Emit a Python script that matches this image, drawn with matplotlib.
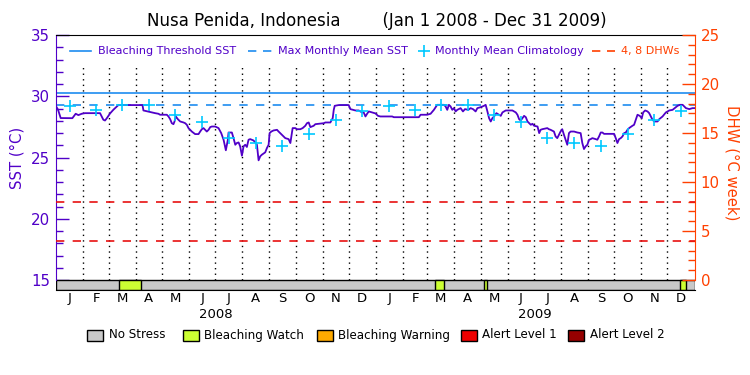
import numpy as np
import matplotlib
matplotlib.use('Agg')
import matplotlib.pyplot as plt
from matplotlib.patches import Rectangle
from matplotlib.lines import Line2D

# Datos (días desde el 1 ene 2008)
sst_days = [0, 2, 5, 18.4, 22.2, 25.3, 29.1, 32.9, 50.1, 53.9, 55.8, 57.8, 61.6, 65.4, 71.1,
            98.7, 99.8, 113.2, 117, 118.9, 126.6, 128.5, 130.4, 132.3, 134.2, 135.4, 136.9,
            139.2, 141.9, 145.7, 147.6, 149.5, 151.4, 153.3, 155.2, 159, 162.9, 164.8, 166.7,
            168.6, 170.5, 172.4, 174.4, 176.3, 178.2, 182, 185.8, 188.9, 191.6, 194.2, 196.5,
            197.3, 201.1, 203.0, 205.0, 206.8, 208.8, 210.6, 212.6, 214.5, 216.4, 218.3, 220.2,
            222.1, 225.9, 227.9, 229.8, 231.7, 233.6, 235.5, 239.3, 241.3, 243.2, 244.3, 246.3,
            248.9, 252.8, 254.6, 258.5, 262.3, 266.1, 268.1, 270.7, 273.8, 275.7, 279.5, 282.2,
            285.2, 287.1, 289.1, 291.0, 294.8, 296.7, 300.6, 306.3, 308.2, 313.9, 316.6, 317.8,
            318.9, 323.4, 334.9, 336.8, 342.6, 346.4, 350.2, 352.1, 354.1, 356.0, 357.9, 361.7,
            365.5, 368.5, 371.2, 384.7, 386.6, 415.3, 417.2, 424.8, 428.7, 432.5, 436.3, 444.0,
            445.9, 447.8, 449.7, 451.6, 453.6, 455.5, 457.4, 459.3, 463.1, 465.8, 468.1, 471.9,
            474.6, 477.3, 480.3, 482.3, 486.1, 489.9, 491.8, 493.8, 495.7, 497.6, 499.5, 501.4,
            504.1, 507.1, 509.1, 511.0, 514.8, 522.4, 526.3, 528.2, 530.1, 532.0, 533.9, 535.8,
            537.8, 539.7, 541.6, 543.5, 545.4, 547.3, 551.2, 553.1, 554.7, 556.6, 562.4, 564.2,
            566.2, 570.0, 571.9, 573.8, 575.7, 577.6, 579.5, 581.5, 583.4, 585.3, 587.2, 589.1,
            593.0, 596.8, 600.6, 602.5, 604.4, 606.3, 608.3, 610.2, 612.1, 614.0, 617.8, 619.7,
            621.7, 623.6, 625.5, 627.4, 631.2, 638.9, 640.8, 642.7, 644.6, 646.5, 648.5, 650.4,
            652.3, 654.2, 656.1, 659.9, 661.8, 663.8, 665.7, 668.3, 670.6, 672.2, 674.5, 677.2,
            679.1, 681.0, 682.9, 684.9, 688.7, 690.6, 694.4, 698.2, 702.1, 705.9, 709.7, 711.6,
            714.3, 717.4, 721.2, 725.0, 728.8, 731]
sst_vals = [29.15, 28.9, 28.22, 28.21, 28.57, 28.46, 28.57, 28.62, 28.62, 28.08, 28.02, 28.2, 28.6,
            28.9, 29.28, 29.28, 28.84, 28.62, 28.57, 28.49, 28.49, 28.35, 28.13, 27.8, 27.72,
            27.94, 28.35, 28.13, 27.94, 27.86, 27.8, 27.67, 27.4, 27.26, 27.12, 26.91, 26.91,
            27.12, 27.31, 27.4, 27.26, 27.12, 27.26, 27.48, 27.53, 27.53, 27.4, 26.99, 26.45,
            25.59, 26.45, 27.04, 27.04, 26.58, 26.04, 26.18, 26.23, 25.91, 25.15, 25.91, 26.04,
            25.86, 26.45, 26.5, 26.39, 26.23, 26.04, 24.77, 25.1, 25.23, 25.42, 25.78, 26.04,
            26.99, 27.12, 27.21, 27.26, 27.12, 26.85, 26.58, 26.5, 26.18, 27.4, 27.4, 27.31,
            27.31, 27.4, 27.59, 27.8, 27.86, 27.48, 27.59, 27.72, 27.75, 27.8, 27.86, 27.86,
            28.21, 28.89, 29.22, 29.28, 29.28, 28.95, 28.84, 28.84, 28.68, 28.68, 28.35, 28.57,
            28.76, 28.68, 28.6, 28.4, 28.35, 28.35, 28.29, 28.29, 28.49, 28.49, 28.57, 28.89,
            29.3, 29.3, 29.17, 28.89, 29.3, 29.17, 28.89, 29.03, 28.76, 28.89, 29.03, 28.76,
            28.95, 28.89, 29.03, 28.95, 28.76, 29.03, 29.11, 29.22, 29.3, 28.76, 28.21, 27.94,
            28.21, 28.35, 28.62, 28.49, 28.4, 28.68, 28.84, 28.84, 28.68, 28.49, 28.13, 28.02,
            28.21, 28.4, 28.29, 27.94, 27.8, 27.67, 27.75, 27.59, 27.53, 26.99, 27.26, 27.31,
            27.4, 27.31, 27.26, 27.12, 26.72, 26.58, 26.85, 27.12, 27.31, 26.85, 26.45, 26.04,
            26.99, 27.12, 27.12, 27.04, 26.99, 26.18, 25.69, 25.91, 26.04, 26.45, 26.5, 26.58,
            26.5, 26.45, 26.72, 27.04, 27.04, 26.93, 26.93, 26.93, 26.58, 26.18, 26.5, 26.58,
            26.72, 26.99, 27.04, 27.26, 27.4, 27.59, 27.67, 28.08, 28.49, 28.4, 28.21, 28.68,
            28.84, 28.76, 28.62, 28.35, 28.08, 27.94, 27.94, 28.13, 28.35, 28.68, 28.84, 28.89,
            29.11, 29.22, 29.3, 29.3, 29.03, 28.95, 29.03, 29.03]

clim_vals = [29.22, 28.84, 29.28, 29.26, 28.49, 27.89, 26.61, 26.15, 25.97, 26.91, 28.05, 28.81]
mmm = 29.28
threshold = 30.28
dhw_levels = [4, 8]

watch_periods = [(72, 97.5), (433.5, 444), (489.7, 493), (714, 721)]

month_letters = ['J', 'F', 'M', 'A', 'M', 'J', 'J', 'A', 'S', 'O', 'N', 'D']
years = ['2008', '2009']

stress_labels = ['No Stress', 'Bleaching Watch', 'Bleaching Warning', 'Alert Level 1', 'Alert Level 2']
stress_colors = ['#C8C8C8', '#CCFF33', '#FFAA00', '#EE0000', '#960000']

purple = '#5000C8'
blue = '#1E8CF0'
cyan = '#00C8FF'
orange = '#FF4000'
red = '#E81010'

# Meses: inicio, fin y centro en días
months = np.arange('2008-01', '2010-02', dtype='datetime64[M]')
edges = (months.astype('datetime64[D]') - np.datetime64('2008-01-01')).astype(int)
m_start = edges[:-1]
m_mid = (edges[:-1] + edges[1:]) / 2.0
n_days = edges[-1]

fig = plt.figure(figsize=(7.5, 3.75), dpi=100)
ax = fig.add_axes([56.3 / 750, 85 / 375, 638.2 / 750, 255 / 375])

bar_frac = 10 / 255
sst_lo = 15 - bar_frac * 20 / (1 - bar_frac)
dhw_lo = -bar_frac * 25 / (1 - bar_frac)
ax.set_xlim(0, n_days)
ax.set_ylim(sst_lo, 35)

# Líneas punteadas de los meses
ax.vlines(m_start[1:], 15, 32.5, colors='k', linestyles=(0, (1, 3)), lw=1)

# Umbrales
ax.axhline(threshold, color=blue, lw=1.2)
ax.axhline(mmm, color=blue, lw=1.2, ls=(0, (5, 5)))

ax.plot(sst_days, sst_vals, color=purple, lw=1.3, zorder=3)
ax.plot(m_mid, clim_vals * 2, ls='none', marker='+', ms=8, mew=1.2, color=cyan, zorder=4)

# Barra de estrés
ax.add_patch(Rectangle((0, sst_lo), n_days, 15 - sst_lo, fc=stress_colors[0], ec='k', lw=1, zorder=2))
for a, b in watch_periods:
    ax.add_patch(Rectangle((a, sst_lo), b - a, 15 - sst_lo, fc=stress_colors[1], ec='k', lw=1, zorder=2))

ax.set_xticks([])
ax.set_yticks([15, 20, 25, 30, 35])
ax.set_yticks(range(15, 36), minor=True)
ax.tick_params(axis='y', which='both', direction='in', colors=purple, labelsize=10.8, pad=4.5, width=1)
ax.tick_params(axis='y', which='major', length=9.4)
ax.tick_params(axis='y', which='minor', length=5)
ax.spines['left'].set_color(purple)
ax.spines['left'].set_bounds(15, 35)
ax.spines['right'].set_visible(False)

ax2 = ax.twinx()
ax2.set_ylim(dhw_lo, 25)
ax2.hlines(dhw_levels, 0, n_days, colors=red, linestyles=(0, (5, 5)), lw=1.2)
ax2.set_yticks([0, 5, 10, 15, 20, 25])
ax2.set_yticks(range(0, 26), minor=True)
ax2.tick_params(axis='y', which='both', direction='in', colors=orange, labelsize=10.8, pad=4.5, width=1)
ax2.tick_params(axis='y', which='major', length=9.4)
ax2.tick_params(axis='y', which='minor', length=5)
ax2.spines['right'].set_color(orange)
ax2.spines['right'].set_bounds(0, 25)
for s in ['left', 'top', 'bottom']:
    ax2.spines[s].set_visible(False)

# Etiquetas de meses y años
trans = ax.get_xaxis_transform()
for i, d in enumerate(m_mid):
    ax.text(d, -0.035, month_letters[i % 12], transform=trans, ha='center', va='center', fontsize=9.5)
for j, yl in enumerate(years):
    ax.text(edges[12 * j] + (edges[12 * (j + 1)] - edges[12 * j]) / 2, -0.098, yl,
            transform=trans, ha='center', va='center', fontsize=9.5)

fig.text(377 / 750, 1 - 21 / 375, 'Nusa Penida, Indonesia        (Jan 1 2008 - Dec 31 2009)',
         ha='center', va='center', fontsize=12)
fig.text(17 / 750, 1 - 158 / 375, 'SST (°C)', rotation=90, ha='center', va='center',
         fontsize=10.7, color=purple)
fig.text(732 / 750, 1 - 163 / 375, 'DHW (°C week)', rotation=-90, ha='center', va='center',
         fontsize=10.7, color=orange)

# Leyenda superior
ly = 1 - 51 / 375
fig.add_artist(Line2D([70 / 750, 91 / 750], [ly, ly], color=blue, lw=1.2))
fig.text(98.5 / 750, ly, 'Bleaching Threshold SST', va='center', fontsize=8, color=purple)
fig.add_artist(Line2D([247.6 / 750, 271.6 / 750], [ly, ly], color=blue, lw=1.2, ls=(0, (5, 4))))
fig.text(278 / 750, ly, 'Max Monthly Mean SST', va='center', fontsize=8, color=purple)
fig.add_artist(Line2D([424 / 750], [ly], color=cyan, marker='+', ms=8, mew=1.2, ls='none'))
fig.text(435 / 750, ly, 'Monthly Mean Climatology', va='center', fontsize=8, color=purple)
fig.add_artist(Line2D([592 / 750, 615 / 750], [ly, ly], color=orange, lw=1.2, ls=(0, (5, 4))))
fig.text(621 / 750, ly, '4, 8 DHWs', va='center', fontsize=8, color=orange)

# Leyenda inferior
box_x = [87.4, 183, 317, 461, 568]
by = 1 - 335 / 375
for bx, lab, col in zip(box_x, stress_labels, stress_colors):
    fig.add_artist(Rectangle((bx / 750, by - 5.5 / 375), 16 / 750, 11 / 375, fc=col, ec='k', lw=1,
                             transform=fig.transFigure))
    fig.text((bx + 21.5) / 750, by, lab, va='center', fontsize=8.6)

fig.savefig('out.png', dpi=100)
